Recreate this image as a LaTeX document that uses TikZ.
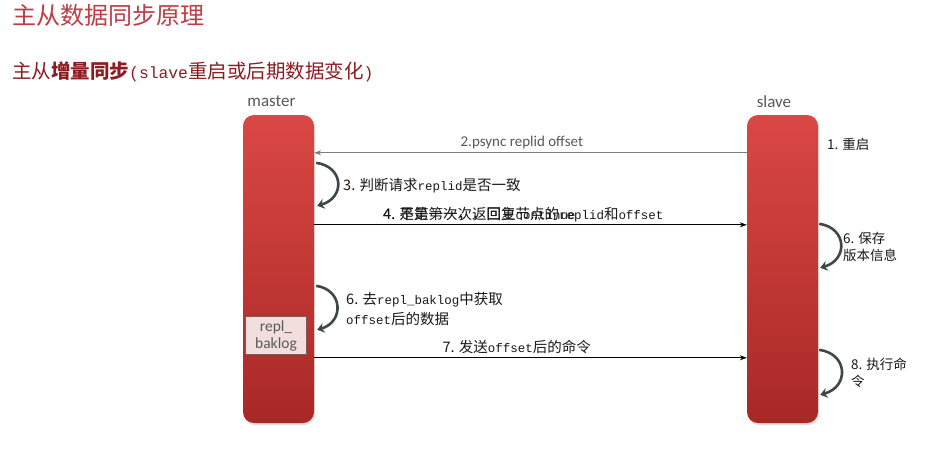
\documentclass[tikz,border=0pt]{standalone}
\usepackage{fontspec}
\newfontfamily\cjk{Noto Sans CJK SC}
\newfontfamily\lat[Scale=0.86]{Liberation Mono}
\newfontfamily\calfont{Carlito}
\newcommand\codetxt[1]{{\lat #1}}
\usetikzlibrary{arrows.meta, shadows}
\definecolor{titlered}{RGB}{192,60,70}
\definecolor{subred}{RGB}{140,28,34}
\definecolor{bartop}{RGB}{218,72,68}
\definecolor{barbot}{RGB}{168,40,38}
\definecolor{bakfill}{RGB}{242,222,220}
\definecolor{bakedge}{RGB}{130,88,88}
\definecolor{loopgray}{RGB}{62,72,72}
\definecolor{lblgray}{RGB}{89,89,89}
\definecolor{msggray}{RGB}{125,125,125}
\definecolor{textdark}{RGB}{25,25,25}
\tikzset{
  bar/.style={rounded corners=11pt, minimum width=71pt, minimum height=308pt, inner sep=0pt,
    top color=bartop, bottom color=barbot, draw=none,
    drop shadow={opacity=0.25, shadow xshift=1pt, shadow yshift=-2pt}},
  head/.style={font=\calfont\fontsize{17}{19}\selectfont, text=lblgray},
  lbl/.style={font=\cjk\fontsize{14.5}{20}\selectfont, text=textdark, inner sep=0pt, align=left},
  lblsans/.style={font=\cjk\fontsize{13.5}{17}\selectfont, text=textdark, inner sep=0pt, align=left},
  msg/.style={-{Stealth[length=7pt, width=5pt]}, line width=0.8pt},
  turn/.style={-{Stealth[length=7pt, width=10pt]}, line width=2.6pt, draw=loopgray},
}
\begin{document}
\begin{tikzpicture}[x=1pt, y=-1pt, line join=round]
  \useasboundingbox[fill=white] (0,0) rectangle (942,448);
  % headings
  \node[anchor=west, inner sep=0pt, text=titlered, font=\cjk\fontsize{24}{26}\selectfont] (title) at (12,15) {主从数据同步原理};
  \node[anchor=west, inner sep=0pt, text=subred, font=\cjk\fontsize{19.5}{22}\selectfont] (subtitle) at (12,72)
    {主从{\bfseries 增量同步}{\lat\fontsize{19}{22}\selectfont(slave}重启或后期数据变化{\lat\fontsize{19}{22}\selectfont)}};
  % the two nodes
  \node[bar] (master) at (278.5,269) {};
  \node[bar] (slave) at (782.5,269) {};
  \node[head] (mastername) at (271.5,101) {master};
  \node[head] (slavename) at (774,102) {slave};
  \node[draw=bakedge, line width=1.2pt, fill=bakfill, minimum width=61pt, minimum height=38pt, inner sep=0pt, align=center,
    font=\calfont\fontsize{15.5}{17}\selectfont, text=lblgray] (baklog) at (276,335.5) {repl\_\\baklog};
  % messages
  \draw[msg, draw=msggray] ([yshift=-38pt]slave.north west) -- node[pos=0.52, above=3pt, inner sep=0pt, font=\calfont\fontsize{15}{17}\selectfont, text=lblgray] (psync) {2.psync replid offset} ([yshift=-38pt]master.north east);
  \draw[msg] ([yshift=-110pt]master.north east) -- node[pos=0.463, above=4pt, inner sep=0pt] (answer) {\phantom{4.}} ([yshift=-110pt]slave.north west);
  \draw[msg] ([yshift=-243pt]master.north east) -- node[pos=0.468, above=4pt, lbl] (send) {7. 发送\codetxt{offset}后的命令} ([yshift=-243pt]slave.north west);
  \node[lbl, anchor=base west] (answera) at (383,219) {4. 是第一次，返回主节点的\codetxt{replid}和\codetxt{offset}};
  \node[lbl, anchor=base west] (answerb) at (383,219) {4. 不是第一次，回复\codetxt{continue}};
  % self turns
  \draw[turn] ([xshift=2pt, yshift=-48pt]master.north east) .. controls +(28,4) and +(28,-8) .. ([xshift=3pt, yshift=-91pt]master.north east);
  \draw[turn] ([xshift=2pt, yshift=-171pt]master.north east) .. controls +(27,4) and +(27,-8) .. ([xshift=3pt, yshift=-215pt]master.north east);
  \draw[turn] ([xshift=1pt, yshift=-109pt]slave.north east) .. controls +(28,4) and +(28,-8) .. ([xshift=2pt, yshift=-153pt]slave.north east);
  \draw[turn] ([xshift=1pt, yshift=-235pt]slave.north east) .. controls +(29,4) and +(29,-8) .. ([xshift=2pt, yshift=-280pt]slave.north east);
  % notes
  \node[lblsans, anchor=west] (restart) at (827,144) {1. 重启};
  \node[lbl, anchor=west] (check) at (343,186) {3. 判断请求\codetxt{replid}是否一致};
  \node[lblsans, anchor=north west, font=\cjk\fontsize{13.5}{17}\selectfont] (keep) at (843,232) {6. 保存\\版本信息};
  \node[lbl, anchor=north west] (fetch) at (346,292) {6. 去\codetxt{repl\_baklog}中获取\\\codetxt{offset}后的数据};
  \node[lblsans, anchor=north west, font=\cjk\fontsize{13.5}{17}\selectfont] (run) at (851,358) {8. 执行命\\令};
\end{tikzpicture}
\end{document}
